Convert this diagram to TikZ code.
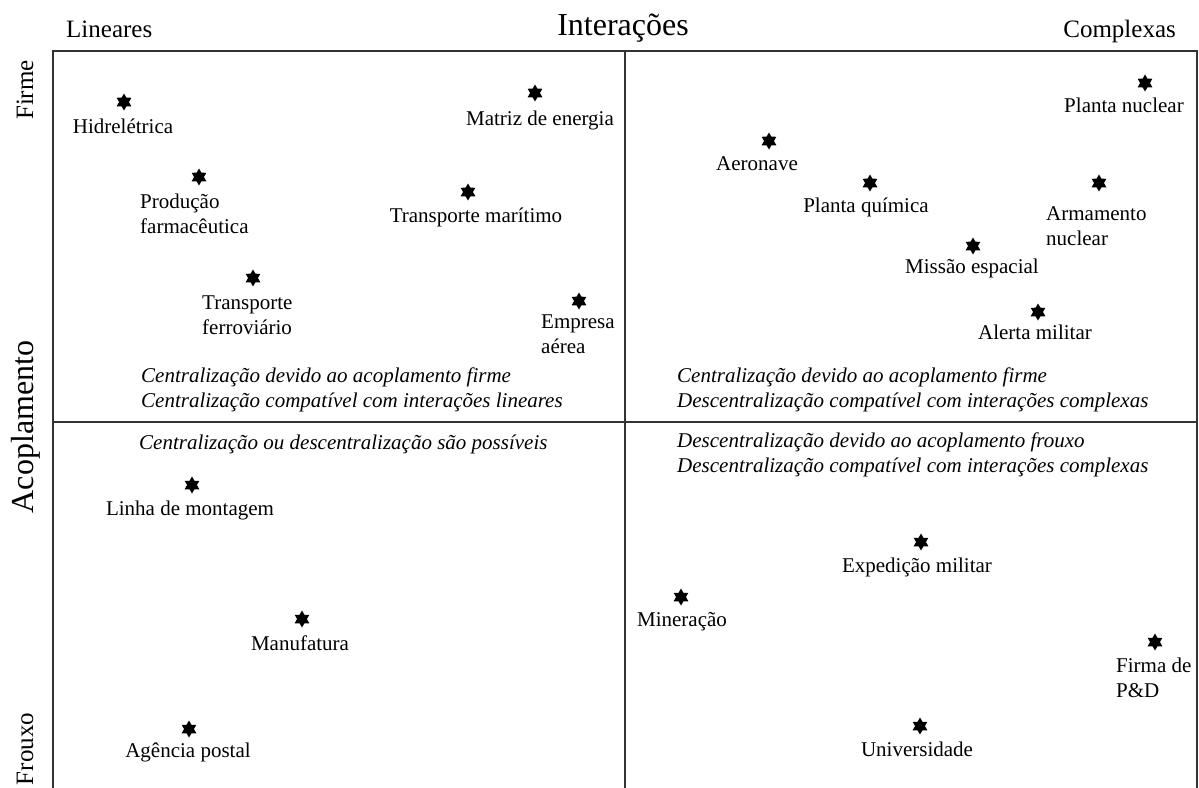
\documentclass[tikz,border=0pt]{standalone}
\usepackage{fontspec}
\setmainfont{Liberation Serif}
\usetikzlibrary{shapes.geometric}

\begin{document}
\begin{tikzpicture}[
  x=1pt, y=-1pt,
  % Estilos gerais
  every node/.style={inner sep=0pt},
  estrela/.style={star, star points=6, star point ratio=1.73, minimum size=17pt, fill=black},
  rotulo/.style={font=\fontsize{21}{25}\selectfont, anchor=base},
  bloco/.style={rotulo, align=left, anchor=base west},
  nota/.style={font=\fontsize{21}{25}\selectfont\itshape, align=left, anchor=base west},
  eixo/.style={font=\fontsize{25}{30}\selectfont, anchor=base},
  titulo/.style={font=\fontsize{32}{38}\selectfont, anchor=base},
  quadro/.style={line width=1.8pt, draw=black!80}
]
  \useasboundingbox (0,0) rectangle (1199,787);

  % Quadro e divisões
  \draw[quadro] (53,800) -- (53,51) -- (1197,51) -- (1197,800);
  \draw[quadro] (625,51) -- (625,800);
  \draw[quadro] (53,422) -- (1197,422);

  % Eixos
  \node[titulo] (interacoes) at (623,35) {Interações};
  \node[eixo, anchor=base west] (lineares) at (66,37) {Lineares};
  \node[eixo, anchor=base east] (complexas) at (1176,37) {Complexas};
  \node[titulo, rotate=90] (acoplamento) at (33,427) {Acoplamento};
  \node[eixo, rotate=90] (firme) at (33,90) {Firme};
  \node[eixo, rotate=90] (frouxo) at (33,749) {Frouxo};

  % Quadrante superior esquerdo (base = última linha)
  \node[estrela] (s-hidro) at (124,102) {};
  \node[rotulo] (l-hidro) at (123,133) {Hidrelétrica};
  \node[estrela] (s-farma) at (199,177) {};
  \node[bloco] (l-farma) at (140,233) {Produção\\farmacêutica};
  \node[estrela] (s-ferro) at (253,278) {};
  \node[bloco] (l-ferro) at (202,334) {Transporte\\ferroviário};
  \node[estrela] (s-matriz) at (535,93) {};
  \node[rotulo] (l-matriz) at (540,125) {Matriz de energia};
  \node[estrela] (s-maritimo) at (468,192) {};
  \node[rotulo] (l-maritimo) at (476,222) {Transporte marítimo};
  \node[estrela] (s-aerea) at (579,301) {};
  \node[bloco] (l-aerea) at (541,353) {Empresa\\aérea};
  \node[nota] (n-se) at (141,407) {Centralização devido ao acoplamento firme\\Centralização compatível com interações lineares};

  % Quadrante superior direito
  \node[estrela] (s-nuclear) at (1145,83) {};
  \node[rotulo] (l-nuclear) at (1124,112) {Planta nuclear};
  \node[estrela] (s-aeronave) at (769,141) {};
  \node[rotulo] (l-aeronave) at (757,170) {Aeronave};
  \node[estrela] (s-quimica) at (870,183) {};
  \node[rotulo] (l-quimica) at (866,212) {Planta química};
  \node[estrela] (s-armamento) at (1099,183) {};
  \node[bloco] (l-armamento) at (1046,245) {Armamento\\nuclear};
  \node[estrela] (s-missao) at (973,246) {};
  \node[rotulo] (l-missao) at (972,273) {Missão espacial};
  \node[estrela] (s-alerta) at (1038,312) {};
  \node[rotulo] (l-alerta) at (1035,339) {Alerta militar};
  \node[nota] (n-sd) at (677,407) {Centralização devido ao acoplamento firme\\Descentralização compatível com interações complexas};

  % Quadrante inferior esquerdo
  \node[nota] (n-ie) at (139,449) {Centralização ou descentralização são possíveis};
  \node[estrela] (s-linha) at (192,485) {};
  \node[rotulo] (l-linha) at (190,515) {Linha de montagem};
  \node[estrela] (s-manuf) at (302,619) {};
  \node[rotulo] (l-manuf) at (300,650) {Manufatura};
  \node[estrela] (s-postal) at (189,729) {};
  \node[rotulo] (l-postal) at (188,757) {Agência postal};

  % Quadrante inferior direito
  \node[nota] (n-id) at (677,472) {Descentralização devido ao acoplamento frouxo\\Descentralização compatível com interações complexas};
  \node[estrela] (s-expedicao) at (921,542) {};
  \node[rotulo] (l-expedicao) at (917,572) {Expedição militar};
  \node[estrela] (s-mineracao) at (681,597) {};
  \node[rotulo] (l-mineracao) at (682,626) {Mineração};
  \node[estrela] (s-firma) at (1155,642) {};
  \node[bloco] (l-firma) at (1116,697) {Firma de\\P\&D};
  \node[estrela] (s-univ) at (920,726) {};
  \node[rotulo] (l-univ) at (917,756) {Universidade};
\end{tikzpicture}
\end{document}
